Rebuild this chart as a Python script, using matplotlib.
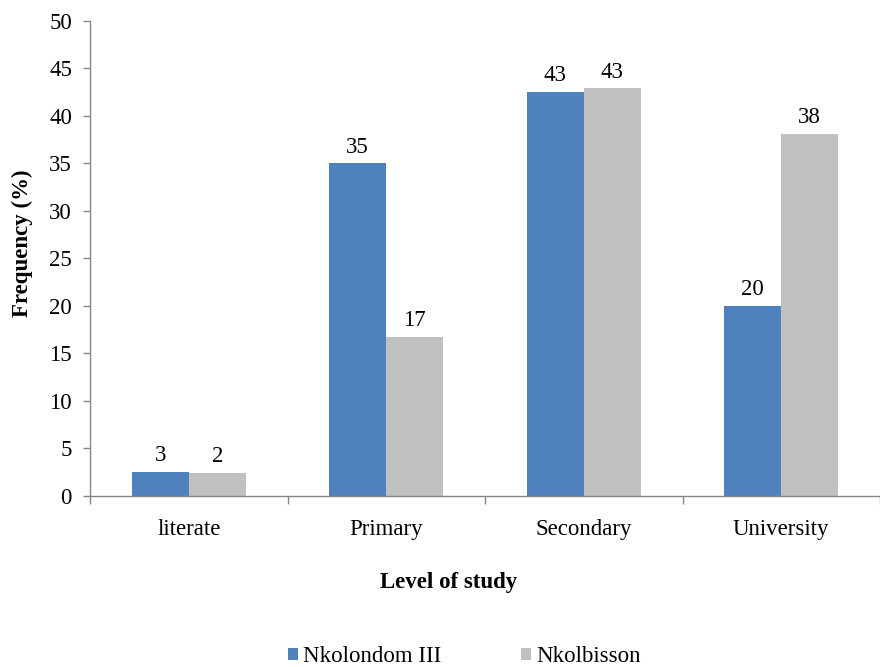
import matplotlib
matplotlib.use("Agg")
import matplotlib.pyplot as plt
import numpy as np

categories = ["literate", "Primary", "Secondary", "University"]
series_names = ["Nkolondom III", "Nkolbisson"]
nkolondom = [2.5, 35.0, 42.5, 20.0]
nkolbisson = [2.4, 16.7, 42.9, 38.1]
nkolondom_labels = ["3", "35", "43", "20"]
nkolbisson_labels = ["2", "17", "43", "38"]
yticks = [0, 5, 10, 15, 20, 25, 30, 35, 40, 45, 50]

plt.rcParams['font.family'] = ['Liberation Serif', 'DejaVu Serif']
FS = 16.5
blue = "#4F81BD"
grey = "#C0C0C0"
axcol = "#868686"

fig = plt.figure(figsize=(8.8, 6.67), dpi=100)
ax = fig.add_axes([90/880, 1-495.5/667, 790/880, (495.5-20.7)/667])

x = np.arange(len(categories))
w = 0.289
b1 = ax.bar(x - w/2, nkolondom, w, color=blue, label=series_names[0])
b2 = ax.bar(x + w/2, nkolbisson, w, color=grey, label=series_names[1])

for rects, labs in ((b1, nkolondom_labels), (b2, nkolbisson_labels)):
    for r, lab in zip(rects, labs):
        ax.annotate(lab, (r.get_x() + r.get_width()/2, r.get_height()),
                    xytext=(0, 4), textcoords="offset points",
                    ha="center", va="bottom", fontsize=FS)

ax.set_xlim(-0.5, len(categories) - 0.5)
ax.set_ylim(0, 50)
ax.set_yticks(yticks)
ax.set_yticklabels([str(t) for t in yticks], fontsize=FS)
ax.set_xticks(x)
ax.set_xticklabels(categories, fontsize=FS)
ax.set_xticks(np.arange(len(categories) + 1) - 0.5, minor=True)
ax.tick_params(axis="x", which="major", length=0, pad=17)
ax.tick_params(axis="x", which="minor", length=6, color=axcol, width=1)
ax.tick_params(axis="y", length=5, color=axcol, width=1, pad=8)

for s in ("top", "right"):
    ax.spines[s].set_visible(False)
for s in ("left", "bottom"):
    ax.spines[s].set_color(axcol)
    ax.spines[s].set_linewidth(1)

ax.set_ylabel("Frequency (%)", fontsize=FS, fontweight="bold")
ax.yaxis.set_label_coords(-0.072, 0.532)
ax.set_xlabel("Level of study", fontsize=FS, fontweight="bold")
ax.xaxis.set_label_coords(0.454, -0.161)

fig.legend(handles=[b1, b2], labels=series_names, loc="center",
           bbox_to_anchor=(464/880, 1-657/667), ncol=2, frameon=False,
           fontsize=FS, handlelength=0.45, handleheight=0.45,
           handletextpad=0.2, columnspacing=3.5)

fig.savefig("out.png", dpi=100)
